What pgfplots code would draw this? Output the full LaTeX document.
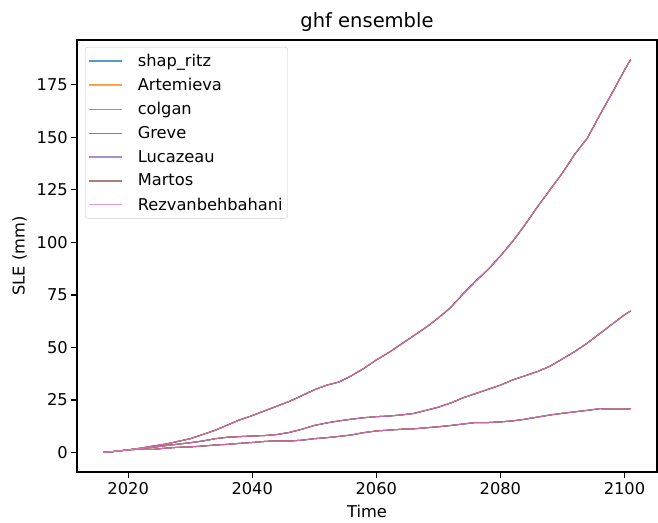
\documentclass[border=0pt]{standalone}
\usepackage{pgfplots}
\usepackage{pgfplotstable}
\pgfplotsset{compat=1.18}
\usepackage{fontspec}
\setmainfont{DejaVu Sans}
\definecolor{c0}{HTML}{1F77B4}
\definecolor{c1}{HTML}{FF7F0E}
\definecolor{c2}{HTML}{2CA02C}
\definecolor{c3}{HTML}{D62728}
\definecolor{c4}{HTML}{9467BD}
\definecolor{c5}{HTML}{8C564B}
\definecolor{c6}{HTML}{E377C2}
\colorlet{l0}{c0!75!white}
\colorlet{l1}{c1!75!white}
\colorlet{l2}{c2!75!white}
\colorlet{l3}{c3!75!white}
\colorlet{l4}{c4!75!white}
\colorlet{l5}{c5!75!white}
\colorlet{l6}{c6!75!white}
\pgfplotstableread{
year sle
2016 0
2018 0.5
2020 1.2
2022 2.0
2024 3.0
2026 3.9
2028 5.2
2030 6.5
2032 8.5
2034 10.5
2036 13.0
2038 15.5
2040 17.5
2042 19.8
2044 22.0
2046 24.3
2048 27.0
2050 29.8
2052 32.0
2054 33.5
2056 36.5
2058 40.0
2060 44.0
2062 47.5
2064 51.5
2066 55.5
2068 59.5
2070 64.0
2072 69.0
2074 75.5
2076 81.5
2078 87.0
2080 93.5
2082 100.5
2084 108.5
2086 117.0
2088 125.0
2090 133.0
2092 142.0
2094 149.5
2096 160.5
2098 171.0
2100 182.0
2101 187.0
}\high
\pgfplotstableread{
year sle
2016 0
2018 0.5
2020 1.2
2022 1.8
2024 2.4
2026 3.2
2028 3.9
2030 4.6
2032 5.4
2034 6.5
2036 7.2
2038 7.5
2040 7.8
2042 8.0
2044 8.5
2046 9.5
2048 11.0
2050 12.8
2052 14.0
2054 15.0
2056 15.8
2058 16.5
2060 17.0
2062 17.3
2064 17.8
2066 18.5
2068 20.0
2070 21.5
2072 23.5
2074 26.0
2076 28.0
2078 30.0
2080 32.0
2082 34.5
2084 36.5
2086 38.5
2088 41.0
2090 44.5
2092 48.0
2094 52.0
2096 56.5
2098 61.0
2100 65.5
2101 67.3
}\mid
\pgfplotstableread{
year sle
2016 0
2018 0.5
2020 1.2
2022 1.5
2024 1.4
2026 2.0
2028 2.4
2030 2.6
2032 3.0
2034 3.5
2036 3.8
2038 4.3
2040 4.7
2042 5.2
2044 5.5
2046 5.4
2048 5.8
2050 6.5
2052 7.0
2054 7.6
2056 8.3
2058 9.4
2060 10.2
2062 10.6
2064 11.0
2066 11.2
2068 11.7
2070 12.2
2072 12.8
2074 13.5
2076 14.2
2078 14.2
2080 14.5
2082 15.0
2084 15.8
2086 16.8
2088 17.8
2090 18.6
2092 19.3
2094 20.0
2096 20.8
2098 20.6
2100 20.6
2101 20.8
}\low
\begin{document}
\begin{tikzpicture}
\begin{axis}[
  at={(0,0)}, anchor=south west,
  scale only axis, width=580pt, height=432pt,
  xmin=2011.75, xmax=2105.25,
  ymin=-9.35, ymax=196.35,
  xtick={2020,2040,2060,2080,2100},
  ytick={0,25,50,75,100,125,150,175},
  /pgf/number format/assume math mode=true,
  /pgf/number format/1000 sep={},
  tick align=outside,
  major tick length=5.7pt,
  tick style={black, line width=1.3pt},
  axis line style={line width=1.3pt},
  xtick pos=bottom, ytick pos=left,
  tick label style={font=\fontsize{16.25}{19.5}\selectfont},
  xticklabel style={yshift=-1pt},
  title={ghf ensemble},
  title style={font=\fontsize{19.5}{23.4}\selectfont, yshift=-1pt},
  xlabel={Time},
  ylabel={SLE (mm)},
  xlabel style={yshift=-4pt},
  ylabel style={yshift=3pt},
  label style={font=\fontsize{16.25}{19.5}\selectfont},
  legend cell align=left,
  legend style={at={(0.0138,0.984)}, anchor=north west,
    font=\fontsize{16.25}{19.5}\selectfont,
    draw=black!20, rounded corners=3pt, fill=white,
    row sep=6.3pt, inner xsep=3pt, inner ysep=5pt},
  legend image code/.code={\draw[#1] (0pt,0pt) -- (33pt,0pt);},
]
\addlegendimage{draw=l0, line width=1.6pt}
\addlegendentry{\hspace{13pt}shap\_ritz}
\addlegendimage{draw=l1, line width=1.6pt}
\addlegendentry{\hspace{13pt}Artemieva}
\addlegendimage{draw=l2, line width=1.6pt}
\addlegendentry{\hspace{13pt}colgan}
\addlegendimage{draw=l3, line width=1.6pt}
\addlegendentry{\hspace{13pt}Greve}
\addlegendimage{draw=l4, line width=1.6pt}
\addlegendentry{\hspace{13pt}Lucazeau}
\addlegendimage{draw=l5, line width=1.6pt}
\addlegendentry{\hspace{13pt}Martos}
\addlegendimage{draw=l6, line width=1.6pt}
\addlegendentry{\hspace{13pt}Rezvanbehbahani}
\addplot[c0, line width=1pt, opacity=0.7, forget plot] table[x=year,y=sle] {\low};
\addplot[c0, line width=1pt, opacity=0.7, forget plot] table[x=year,y=sle] {\mid};
\addplot[c0, line width=1pt, opacity=0.7, forget plot] table[x=year,y=sle] {\high};
\addplot[c1, line width=1pt, opacity=0.7, forget plot] table[x=year,y=sle] {\low};
\addplot[c1, line width=1pt, opacity=0.7, forget plot] table[x=year,y=sle] {\mid};
\addplot[c1, line width=1pt, opacity=0.7, forget plot] table[x=year,y=sle] {\high};
\addplot[c2, line width=1pt, opacity=0.7, forget plot] table[x=year,y=sle] {\low};
\addplot[c2, line width=1pt, opacity=0.7, forget plot] table[x=year,y=sle] {\mid};
\addplot[c2, line width=1pt, opacity=0.7, forget plot] table[x=year,y=sle] {\high};
\addplot[c3, line width=1pt, opacity=0.7, forget plot] table[x=year,y=sle] {\low};
\addplot[c3, line width=1pt, opacity=0.7, forget plot] table[x=year,y=sle] {\mid};
\addplot[c3, line width=1pt, opacity=0.7, forget plot] table[x=year,y=sle] {\high};
\addplot[c4, line width=1pt, opacity=0.7, forget plot] table[x=year,y=sle] {\low};
\addplot[c4, line width=1pt, opacity=0.7, forget plot] table[x=year,y=sle] {\mid};
\addplot[c4, line width=1pt, opacity=0.7, forget plot] table[x=year,y=sle] {\high};
\addplot[c5, line width=1pt, opacity=0.7, forget plot] table[x=year,y=sle] {\low};
\addplot[c5, line width=1pt, opacity=0.7, forget plot] table[x=year,y=sle] {\mid};
\addplot[c5, line width=1pt, opacity=0.7, forget plot] table[x=year,y=sle] {\high};
\addplot[c6, line width=1pt, opacity=0.7, forget plot] table[x=year,y=sle] {\low};
\addplot[c6, line width=1pt, opacity=0.7, forget plot] table[x=year,y=sle] {\mid};
\addplot[c6, line width=1pt, opacity=0.7, forget plot] table[x=year,y=sle] {\high};
\end{axis}
\pgfresetboundingbox
\path (-77pt,-50pt) rectangle (581pt,472pt);
\end{tikzpicture}
\end{document}
